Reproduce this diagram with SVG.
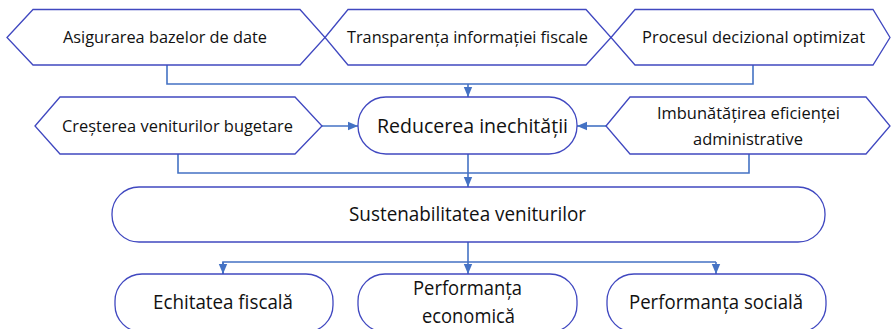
<svg xmlns="http://www.w3.org/2000/svg" width="891" height="329" viewBox="0 0 891 329">
<style>
.box{fill:#fff;stroke:#4048C0;stroke-width:1.3}
.con{fill:none;stroke:#4472C4;stroke-width:1.6}
text{font-family:"Open Sans","Noto Sans","DejaVu Sans",sans-serif;fill:#111;text-anchor:middle}
.s{font-size:16.5px}
.m{font-size:20px}
.l{font-size:20.5px}
</style>
<defs>
<marker id="ah" markerUnits="userSpaceOnUse" markerWidth="10" markerHeight="10" viewBox="0 0 10 10" refX="10" refY="5" orient="auto">
<path d="M0,0.8 L10,5 L0,9.2 Z" fill="#4472C4"/>
</marker>
</defs>
<rect width="891" height="329" fill="#fff"/>
<g id="connectors">
<path class="con" d="M167,65 V84 H753 V65"/>
<path class="con" d="M468,84 V97" marker-end="url(#ah)"/>
<path class="con" d="M322,126 H358" marker-end="url(#ah)"/>
<path class="con" d="M606,126 H577" marker-end="url(#ah)"/>
<path class="con" d="M178,154 V173 H749 V154"/>
<path class="con" d="M468,154 V187" marker-end="url(#ah)"/>
<path class="con" d="M223,274 V262 H716"/>
<path class="con" d="M468,242 V274" marker-end="url(#ah)"/>
<path class="con" d="M223,262 V274" marker-end="url(#ah)"/>
<path class="con" d="M716,262 V274" marker-end="url(#ah)"/>
</g>
<g id="n1">
<polygon class="box" points="7,37.5 33,9.5 300,9.5 325,37.5 300,65 33,65"/>
<text class="s" x="165" y="43" textLength="204" lengthAdjust="spacingAndGlyphs">Asigurarea bazelor de date</text>
</g>
<g id="n2">
<polygon class="box" points="325,37.5 348,9.5 586,9.5 611,37.5 586,65 348,65"/>
<text class="s" x="467.5" y="43" textLength="241" lengthAdjust="spacingAndGlyphs">Transparența informației fiscale</text>
</g>
<g id="n3">
<polygon class="box" points="611,37.5 635,9.5 873,9.5 890,37.5 873,65 635,65"/>
<text class="s" x="753.5" y="43" textLength="223" lengthAdjust="spacingAndGlyphs">Procesul decizional optimizat</text>
</g>
<g id="n4">
<polygon class="box" points="35,126 60,97 295,97 322,126 295,154 60,154"/>
<text class="s" x="177.5" y="132" textLength="231" lengthAdjust="spacingAndGlyphs">Creșterea veniturilor bugetare</text>
</g>
<g id="n5">
<rect class="box" x="358" y="97" width="219" height="57" rx="28" ry="28"/>
<text class="l" x="472.5" y="133" textLength="191" lengthAdjust="spacingAndGlyphs">Reducerea inechității</text>
</g>
<g id="n6">
<polygon class="box" points="606,126 630,97 866,97 890,126 866,154 630,154"/>
<text class="s" x="748.5" y="119" textLength="183" lengthAdjust="spacingAndGlyphs">Imbunătățirea eficienței</text>
<text class="s" x="748" y="145" textLength="110" lengthAdjust="spacingAndGlyphs">administrative</text>
</g>
<g id="n7">
<rect class="box" x="112" y="187" width="713" height="55" rx="27" ry="27"/>
<text class="m" x="467.5" y="221" textLength="237" lengthAdjust="spacingAndGlyphs">Sustenabilitatea veniturilor</text>
</g>
<g id="n8">
<rect class="box" x="115" y="274" width="218" height="58" rx="27" ry="27"/>
<text class="m" x="223" y="309" textLength="140" lengthAdjust="spacingAndGlyphs">Echitatea fiscală</text>
</g>
<g id="n9">
<rect class="box" x="358" y="274" width="219" height="58" rx="27" ry="27"/>
<text class="m" x="467.5" y="295" textLength="109" lengthAdjust="spacingAndGlyphs">Performanța</text>
<text class="m" x="468.5" y="323" textLength="93" lengthAdjust="spacingAndGlyphs">economică</text>
</g>
<g id="n10">
<rect class="box" x="607" y="274" width="219" height="58" rx="27" ry="27"/>
<text class="m" x="716" y="309" textLength="174" lengthAdjust="spacingAndGlyphs">Performanța socială</text>
</g>
</svg>
